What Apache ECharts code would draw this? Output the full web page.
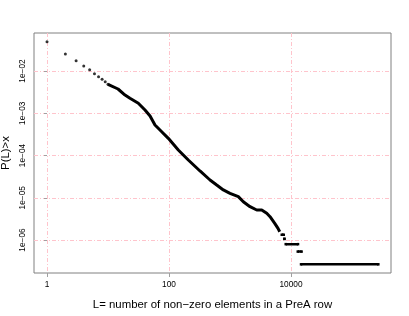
<!DOCTYPE html>
<html>
<head>
<meta charset="utf-8">
<script src="https://cdn.jsdelivr.net/npm/echarts@6/dist/echarts.min.js"></script>
<style>html,body{margin:0;padding:0;background:#fff}#c{width:409px;height:316px}</style>
</head>
<body>
<div id="c"></div>
<script>
// Head of the distribution: individual points
const headL = [1, 2, 3, 4, 5, 6, 7, 8, 9, 10];
const headP = [0.0493, 0.0252, 0.01754, 0.01313, 0.01074, 0.00863, 0.00733, 0.00637, 0.00558, 0.00484];

// Dense part of the distribution (points merge into a curve)
const curveL = [10, 14.6, 19.0, 22.9, 31.4, 40.4, 48.9, 58.9, 75.9, 97.4, 142, 207, 322, 470, 605, 777, 1000, 1368, 1652, 2128, 2742, 3311, 4000, 4530, 5410, 6120, 6530];
const curveP = [0.00484, 0.00375, 0.00270, 0.00226, 0.00172, 0.00119, 0.000861, 0.000527, 0.000366, 0.000255, 0.000135, 7.82e-5, 4.30e-5, 2.63e-5, 2.00e-5, 1.53e-5, 1.27e-5, 1.06e-5, 8.07e-6, 6.14e-6, 5.13e-6, 5.13e-6, 4.28e-6, 3.56e-6, 2.48e-6, 1.89e-6, 1.57e-6];

// Tail: plateaus of equal probability
const tailSegL = [[7050, 7600], [7800, 7800], [8190, 13030], [12900, 14900], [14590, 270000]];
const tailSegP = [1.33e-6, 1.064e-6, 7.98e-7, 5.32e-7, 2.66e-7];

// Axes (log10 scale)
const xRange = [0.612, 435500];
const yRange = [1.656e-7, 0.0793];
const xTickValues = [1, 100, 10000];
const xTickLabels = ['1', '100', '10000'];
const yTickValues = [1e-2, 1e-3, 1e-4, 1e-5, 1e-6];
const yTickLabels = ['1e\u221202', '1e\u221203', '1e\u221204', '1e\u221205', '1e\u221206'];
const xTitle = 'L= number of non\u2212zero elements in a PreA row';
const yTitle = 'P(L)>x';

const lg = Math.log10;
const font = '"Liberation Sans", Arial, sans-serif';
function labelFor(values, labels) {
  return function (v) {
    for (let i = 0; i < values.length; i++) {
      if (Math.abs(lg(values[i]) - v) < 1e-6) return labels[i];
    }
    return '';
  };
}

const gridLine = { show: true, lineStyle: { color: '#ffc4cc', width: 1, type: [4, 2, 1, 2] } };

const series = [];
series.push({
  type: 'line', data: curveL.map((l, i) => [lg(l), lg(curveP[i])]),
  showSymbol: false, symbol: 'none', lineStyle: { color: '#000', width: 3 }, z: 3, silent: true
});
series.push({
  type: 'scatter', data: headL.map((l, i) => [lg(l), lg(headP[i])]),
  symbol: 'circle', symbolSize: 3, itemStyle: { color: '#000' }, z: 4, silent: true
});
tailSegL.forEach((seg, k) => {
  series.push({
    type: 'line', data: seg.map(l => [lg(l), lg(tailSegP[k])]),
    symbol: 'rect', symbolSize: 2.5, showSymbol: true,
    itemStyle: { color: '#000' }, lineStyle: { color: '#000', width: 2.5 }, z: 3, silent: true
  });
});

const chart = echarts.init(document.getElementById('c'), null, { renderer: 'canvas' });
chart.setOption({
  animation: false,
  backgroundColor: '#fff',
  textStyle: { fontFamily: font },
  grid: { left: 34, top: 33, right: 18, bottom: 43, containLabel: false, outerBoundsMode: 'none', show: true, borderColor: '#808080', borderWidth: 1, backgroundColor: 'transparent' },
  xAxis: {
    type: 'value', min: lg(xRange[0]), max: lg(xRange[1]),
    axisLine: { show: false },
    axisTick: { show: true, customValues: xTickValues.map(lg), length: 4, lineStyle: { color: '#a0a0a0' } },
    axisLabel: { customValues: xTickValues.map(lg), formatter: labelFor(xTickValues, xTickLabels), fontSize: 8.3, color: '#000', margin: 8, fontFamily: font },
    splitLine: gridLine,
    name: xTitle, nameLocation: 'middle', nameGap: 26,
    nameTextStyle: { fontSize: 11.4, color: '#000', fontFamily: font }
  },
  yAxis: {
    type: 'value', min: lg(yRange[0]), max: lg(yRange[1]),
    axisLine: { show: false },
    axisTick: { show: true, customValues: yTickValues.map(lg), length: 3, lineStyle: { color: '#a0a0a0' } },
    axisLabel: { customValues: yTickValues.map(lg), formatter: labelFor(yTickValues, yTickLabels), fontSize: 8.3, color: '#000', margin: 7, rotate: 90, fontFamily: font },
    splitLine: gridLine,
    name: yTitle, nameLocation: 'middle', nameGap: 20,
    nameTextStyle: { fontSize: 11.4, color: '#000', fontFamily: font }
  },
  series: series
});
</script>
</body>
</html>
